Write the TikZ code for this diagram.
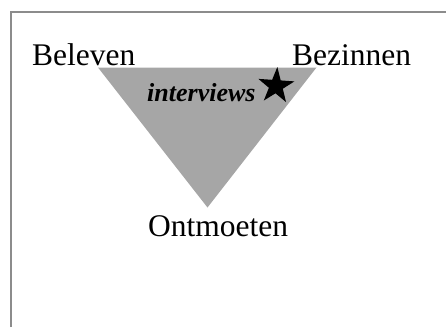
\documentclass[tikz,border=0pt]{standalone}
\usepackage{fontspec}
\setmainfont{Liberation Serif}
\usepackage{tikz}
\usetikzlibrary{shapes.geometric, positioning}
\definecolor{triangelgrey}{HTML}{A6A6A6}
\definecolor{framegrey}{HTML}{8C8C8C}

\begin{document}
\begin{tikzpicture}[x=1pt, y=-1pt,
    label/.style={anchor=base west, inner sep=0pt, font=\fontsize{31.5}{36}\selectfont},
    note/.style={anchor=base west, inner sep=0pt, font=\fontsize{26}{30}\selectfont\bfseries\itshape}]
    \useasboundingbox (0,0) rectangle (446,327);
    % frame, open at the right and bottom
    \draw[framegrey, line width=1.3pt] (11,327) -- (11,12) -- (446,12);
    % the triangle
    \coordinate (tl) at (98,67.5);
    \coordinate (tr) at (316.5,67.5);
    \coordinate (bt) at (207.5,207.5);
    \fill[triangelgrey] (tl) -- (tr) -- (bt) -- cycle;
    \node[label] (beleven) at (32,65) {Beleven};
    \node[label] (bezinnen) at (292,65) {Bezinnen};
    \node[label] (ontmoeten) at (148,236.5) {Ontmoeten};
    \node[note] (interviews) at (147,101) {interviews};
    \node[star, star points=5, star point ratio=2.6, fill=black, inner sep=0pt,
          minimum size=38pt, rotate=-4] (ster) at (276,86) {};
  \end{tikzpicture}
\end{document}
